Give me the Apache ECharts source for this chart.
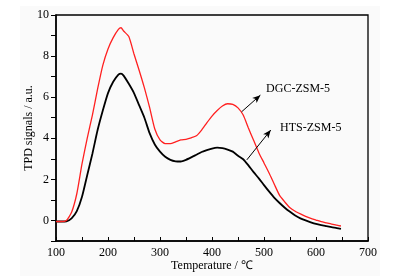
<!DOCTYPE html>
<html>
<head>
<meta charset="utf-8">
<script src="https://cdn.jsdelivr.net/npm/echarts@6/dist/echarts.min.js"></script>
<style>
html,body{margin:0;padding:0;background:#fff;}
#c{width:398px;height:280px;}
</style>
</head>
<body>
<div id="c"></div>
<script>
var temps = [100,110,120,130,140,150,160,170,180,190,200,210,220,225,230,240,250,260,270,280,290,300,310,320,330,340,350,360,370,380,390,400,410,420,430,440,450,460,470,480,490,500,510,520,530,540,550,560,570,580,590,600,610,620,630,640,648];
var dgcValues = [-0.05,-0.05,0.0,0.4,1.3,2.75,4.0,5.13,6.4,7.55,8.35,8.9,9.3,9.38,9.22,8.95,8.1,7.3,6.45,5.5,4.45,3.92,3.74,3.74,3.83,3.92,3.95,4.02,4.12,4.4,4.75,5.08,5.35,5.57,5.68,5.65,5.48,5.13,4.5,3.9,3.3,2.8,2.3,1.75,1.22,0.9,0.62,0.45,0.32,0.2,0.1,0.02,-0.06,-0.12,-0.18,-0.23,-0.27];
var htsValues = [-0.05,-0.05,-0.04,0.1,0.45,1.15,2.2,3.25,4.4,5.35,6.2,6.75,7.1,7.15,7.05,6.65,6.2,5.6,5.0,4.25,3.7,3.35,3.1,2.95,2.88,2.87,2.95,3.07,3.2,3.33,3.42,3.5,3.54,3.52,3.45,3.35,3.15,2.98,2.68,2.35,2.05,1.72,1.4,1.1,0.85,0.62,0.42,0.24,0.1,0.0,-0.09,-0.17,-0.23,-0.28,-0.33,-0.37,-0.41];
var seriesNames = ['DGC-ZSM-5','HTS-ZSM-5'];
var xTickLabels = [100,200,300,400,500,600,700];
var yTickLabels = [0,2,4,6,8,10];
// annotation arrows (data coords): [startX,startY,endX,endY], label anchor
var dgcArrow = [457,5.29,493,6.1];
var htsArrow = [467,2.95,513,4.4];
var dgcLabelAt = [504,6.39];
var htsLabelAt = [531,4.5];

function pairs(xs, ys){ return xs.map(function(x,i){return [x, ys[i]];}); }

var font = 'Liberation Serif';
var chart = echarts.init(document.getElementById('c'), null, {renderer:'canvas'});

function annot(arrow, at, name){
  return {
    markLine: {
      silent: true,
      symbol: ['none','arrow'],
      symbolSize: [5,8],
      lineStyle: {color:'#000', width:1, type:'solid'},
      label: {show:false},
      data: [[{coord:[arrow[0],arrow[1]]},{coord:[arrow[2],arrow[3]]}]]
    },
    markPoint: {
      silent: true,
      symbol: 'circle',
      symbolSize: 0,
      label: {show:true, position:'right', distance:0, formatter:name, color:'#000', fontFamily:font, fontSize:12},
      data: [{coord:at}]
    }
  };
}

var s1 = Object.assign({
  name: seriesNames[0], type:'line', data: pairs(temps, dgcValues), showSymbol:false, smooth:0.2,
  lineStyle:{color:'#ff2020', width:1.3}, itemStyle:{color:'#ff2020'}, z:3
}, annot(dgcArrow, dgcLabelAt, seriesNames[0]));
var s2 = Object.assign({
  name: seriesNames[1], type:'line', data: pairs(temps, htsValues), showSymbol:false, smooth:0.2,
  lineStyle:{color:'#000', width:1.8}, itemStyle:{color:'#000'}, z:2
}, annot(htsArrow, htsLabelAt, seriesNames[1]));

chart.setOption({
  animation:false,
  backgroundColor:'#fff',
  graphic:[{type:'rect', shape:{x:20,y:6,width:360,height:270}, style:{fill:'#fafafa'}, z:-10, silent:true}],
  grid:{left:56, right:30, top:15, bottom:39, show:true, borderColor:'#000', borderWidth:1.3, backgroundColor:'transparent'},
  xAxis:{
    type:'value', min:100, max:700, interval:50,
    name:'Temperature / ℃', nameLocation:'middle', nameGap:19, nameMoveOverlap:false,
    nameTextStyle:{fontFamily:font, fontSize:12, color:'#000'},
    axisLine:{show:true, onZero:false, lineStyle:{color:'#000', width:1.5}},
    axisTick:{show:true, inside:true, length:4, lineStyle:{color:'#000', width:1}},
    axisLabel:{margin:6, fontFamily:font, fontSize:12, color:'#000',
      formatter:function(v){ return xTickLabels.indexOf(v) >= 0 ? String(v) : ''; }},
    splitLine:{show:false}
  },
  yAxis:{
    type:'value', min:-1, max:10, interval:1,
    name:'TPD signals / a.u.', nameLocation:'middle', nameGap:21, nameRotate:90, nameMoveOverlap:false,
    nameTextStyle:{fontFamily:font, fontSize:12, color:'#000'},
    axisLine:{show:true, onZero:false, lineStyle:{color:'#000', width:1.5}},
    axisTick:{show:true, inside:false, length:5, lineStyle:{color:'#000', width:1}},
    axisLabel:{margin:7, fontFamily:font, fontSize:12, color:'#000',
      formatter:function(v){ return yTickLabels.indexOf(v) >= 0 ? String(v) : ''; }},
    splitLine:{show:false}
  },
  series:[s1, s2]
});
</script>
</body>
</html>
